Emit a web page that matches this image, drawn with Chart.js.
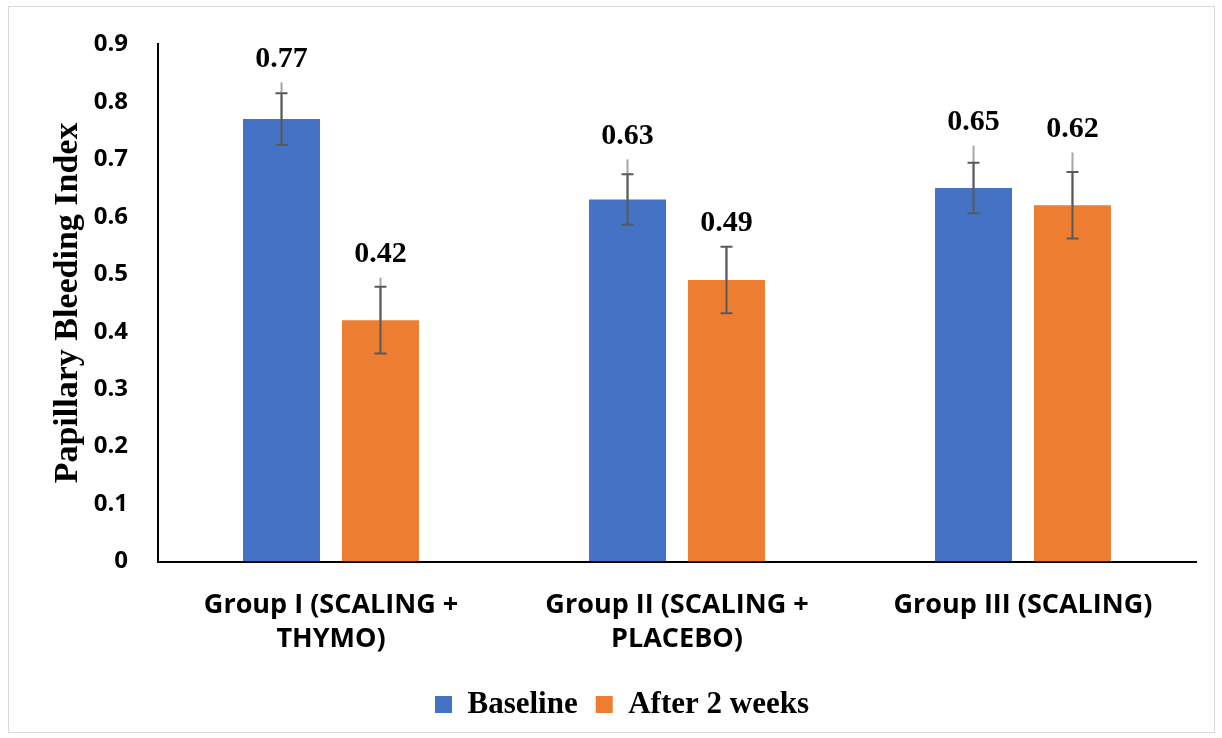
<!DOCTYPE html>
<html>
<head>
<meta charset="utf-8">
<script src="https://cdn.jsdelivr.net/npm/chart.js@4"></script>
<style>
  body { margin: 0; background: #fff; }
  #wrap { position: absolute; left: 0; top: 0; width: 1222px; height: 738px; }
  #frame { position: absolute; left: 8px; top: 6px; width: 1205px; height: 725px; border: 1px solid #d9d9d9; pointer-events: none; }
</style>
</head>
<body>
<div id="wrap">
  <canvas id="chart" width="1222" height="738"></canvas>
  <div id="frame"></div>
</div>
<script>
// Данные графика
const groups = [['Group I (SCALING +', 'THYMO)'], ['Group II (SCALING +', 'PLACEBO)'], ['Group III (SCALING)']];
const seriesNames = ['Baseline', 'After 2 weeks'];
const baseline = [0.77, 0.63, 0.65];
const after2weeks = [0.42, 0.49, 0.62];
// погрешности (±) и верх светлой линии
const baselineErr = [0.045, 0.044, 0.044];
const afterErr = [0.058, 0.058, 0.058];
const baselineTop = [0.834, 0.70, 0.724];
const afterTop = [0.494, 0.549, 0.712];
const yTickLabels = ['0', '0.1', '0.2', '0.3', '0.4', '0.5', '0.6', '0.7', '0.8', '0.9'];

const blue = '#4472C4';
const orange = '#ED7D31';

// Плагин для усов погрешности и подписей значений
const errorBarsPlugin = {
  id: 'errorBars',
  afterDatasetsDraw(chart) {
    const ctx = chart.ctx;
    const y = chart.scales.y;
    const errs = [baselineErr, afterErr];
    const tops = [baselineTop, afterTop];
    chart.data.datasets.forEach((ds, di) => {
      const meta = chart.getDatasetMeta(di);
      meta.data.forEach((bar, i) => {
        const v = ds.data[i];
        const x = bar.x;
        const yTop = y.getPixelForValue(tops[di][i]);
        const yHi = y.getPixelForValue(v + errs[di][i]);
        const yLo = y.getPixelForValue(v - errs[di][i]);
        ctx.save();
        // светлая линия
        ctx.strokeStyle = '#a6a6a6';
        ctx.lineWidth = 2;
        ctx.beginPath();
        ctx.moveTo(x, bar.y);
        ctx.lineTo(x, yTop);
        ctx.stroke();
        // тёмный ус
        ctx.strokeStyle = '#595959';
        ctx.lineWidth = 2;
        ctx.beginPath();
        ctx.moveTo(x, yHi);
        ctx.lineTo(x, yLo);
        ctx.moveTo(x - 6, yHi);
        ctx.lineTo(x + 6, yHi);
        ctx.moveTo(x - 6, yLo);
        ctx.lineTo(x + 6, yLo);
        ctx.stroke();
        // подпись
        const labelY = Math.min(yTop, yHi) - 8;
        ctx.fillStyle = '#000';
        ctx.font = 'bold 30px "Liberation Serif"';
        ctx.textAlign = 'center';
        ctx.textBaseline = 'bottom';
        ctx.fillText(v.toFixed(2), x, labelY);
        ctx.restore();
      });
    });
  }
};

const ctx = document.getElementById('chart').getContext('2d');
new Chart(ctx, {
  type: 'bar',
  data: {
    labels: groups,
    datasets: [
      { label: seriesNames[0], data: baseline, backgroundColor: blue, barPercentage: 0.778, categoryPercentage: 0.572 },
      { label: seriesNames[1], data: after2weeks, backgroundColor: orange, barPercentage: 0.778, categoryPercentage: 0.572 }
    ]
  },
  options: {
    responsive: false,
    animation: false,
    layout: { padding: { left: 48, right: 26, top: 30, bottom: 8 } },
    plugins: {
      tooltip: { enabled: false },
      legend: {
        position: 'bottom',
        labels: {
          color: '#000',
          font: { family: '"Liberation Serif"', size: 31, weight: 'bold' },
          boxWidth: 17,
          boxHeight: 17,
          padding: 18
        }
      }
    },
    scales: {
      x: {
        grid: { display: false, drawTicks: false },
        border: { color: '#000', width: 2 },
        afterFit(scale) { scale.height -= 12; },
        ticks: {
          color: '#000',
          padding: 27,
          font: { family: '"Open Sans"', size: 27, weight: 'bold', lineHeight: 1.25 }
        }
      },
      y: {
        min: 0,
        max: 0.9,
        grid: { display: false, drawTicks: false },
        border: { color: '#000', width: 2 },
        afterFit(scale) { scale.width = 110; },
        ticks: {
          stepSize: 0.1,
          color: '#000',
          padding: 30,
          font: { family: '"Open Sans"', size: 24, weight: 'bold' },
          callback: (v, i) => yTickLabels[i]
        },
        title: {
          display: true,
          text: 'Papillary Bleeding Index',
          color: '#000',
          font: { family: '"Liberation Serif"', size: 34, weight: 'bold' },
          padding: 0
        }
      }
    }
  },
  plugins: [errorBarsPlugin]
});
</script>
</body>
</html>
